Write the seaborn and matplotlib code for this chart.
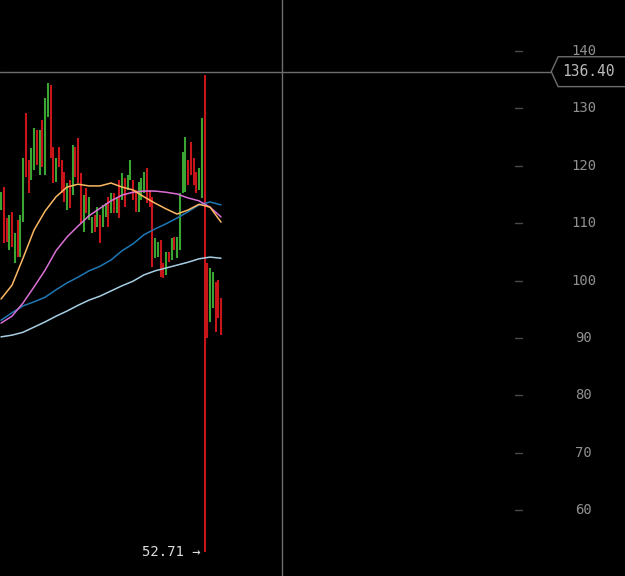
import pandas as pd
import matplotlib.pyplot as plt
from matplotlib.patches import Polygon
import seaborn as sns

# ---------------- data ----------------
# daily bars: high / low / direction (G = up, R = down)
bar_high = [115.4, 116.3, 110.9, 111.4, 112.0, 108.3, 110.6, 111.4, 121.4, 129.2,
            121.0, 123.1, 126.6, 126.2, 126.2, 128.0, 131.8, 134.4, 134.1, 123.3,
            121.4, 123.3, 121.0, 118.9, 117.0, 117.5, 123.6, 123.3, 124.8, 118.7,
            114.9, 116.1, 114.6, 111.1, 111.4, 112.8, 111.4, 113.2, 113.5, 114.6,
            115.3, 115.3, 114.6, 117.5, 118.7, 117.9, 118.4, 121.0, 117.5, 115.8,
            117.2, 117.9, 118.9, 119.6, 115.8, 114.6, 107.4, 106.7, 107.1, 103.1,
            105.0, 105.0, 107.4, 107.6, 107.6, 115.3, 122.4, 125.0, 121.0, 124.1,
            121.4, 118.9, 119.6, 128.3, 135.8, 103.1, 102.2, 101.5, 99.8, 100.1,
            97.0]
bar_low = [112.3, 106.5, 106.7, 105.3, 105.9, 103.1, 104.1, 104.1, 110.2, 118.0,
           115.3, 117.5, 119.3, 120.1, 118.4, 119.8, 118.4, 128.5, 121.4, 117.0,
           117.2, 119.8, 115.3, 113.7, 112.3, 112.6, 114.9, 118.0, 117.0, 110.0,
           108.5, 111.8, 110.6, 108.3, 108.5, 109.3, 106.5, 109.3, 111.1, 109.3,
           111.8, 111.8, 111.8, 110.9, 114.0, 112.8, 115.8, 117.5, 114.0, 112.0,
           112.0, 114.0, 115.3, 113.5, 112.8, 102.4, 103.9, 104.1, 100.6, 100.5,
           101.0, 103.2, 103.6, 105.3, 103.9, 105.3, 115.3, 115.4, 116.7, 118.4,
           116.7, 115.3, 115.8, 114.4, 52.71, 90.0, 92.8, 95.2, 91.0, 93.5,
           90.5]
bar_dir = list("GRRGRGRGGRRGGRGRGGRRGRRRGRGRRRGRGGRGRGGRGRGRGRGGRRGGGRRRGGRRGRGRGGGGRRRRGGRRGGRRR")

# moving averages, sampled every 4th bar
ma_index = list(range(0, 81, 4))
ma_orange = [96.8, 99.2, 103.9, 108.8, 112.1, 114.6, 116.3, 116.8, 116.5, 116.5, 117.0,
             116.3, 115.8, 114.6, 113.5, 112.5, 111.6, 112.3, 113.3, 112.8, 110.2]
ma_pink = [92.6, 93.8, 96.1, 98.9, 101.8, 105.2, 107.6, 109.5, 111.3, 112.6, 113.9,
           114.9, 115.4, 115.6, 115.6, 115.4, 115.1, 114.4, 113.9, 112.8, 111.1]
ma_blue = [93.1, 94.4, 95.6, 96.3, 97.1, 98.4, 99.6, 100.6, 101.7, 102.5, 103.6,
           105.2, 106.4, 108.0, 109.0, 109.9, 110.9, 112.0, 113.2, 113.7, 113.2]
ma_lightblue = [90.2, 90.5, 91.0, 91.9, 92.8, 93.8, 94.7, 95.7, 96.6, 97.3, 98.2,
                99.1, 99.9, 101.0, 101.7, 102.2, 102.7, 103.2, 103.8, 104.1, 103.9]

y_ticks = [60, 70, 80, 90, 100, 110, 120, 130, 140]
cross_price = 136.40
cross_index = 102.2
low_label = "52.71"


def main():
    sns.set_theme(style="dark")
    plt.rcParams["font.family"] = ["DejaVu Sans Mono", "DejaVu Sans"]

    fig = plt.figure(figsize=(6.25, 5.76), dpi=100, facecolor="black")
    ax = fig.add_axes([0, 0, 1, 1])
    ax.set_facecolor("black")

    df = pd.DataFrame({"high": bar_high, "low": bar_low, "dir": bar_dir})
    df["i"] = range(len(df))
    colors = {"G": "#3aa532", "R": "#c8151a"}
    for d, grp in df.groupby("dir"):
        ax.vlines(grp["i"], grp["low"], grp["high"], color=colors[d], lw=1.5, zorder=3)

    ma = pd.DataFrame({"i": ma_index, "orange": ma_orange, "pink": ma_pink,
                       "blue": ma_blue, "lightblue": ma_lightblue})
    line_colors = {"lightblue": "#a6cee3", "blue": "#1f78b4",
                   "pink": "#da70d6", "orange": "#fdb863"}
    for name, c in line_colors.items():
        sns.lineplot(data=ma, x="i", y=name, ax=ax, color=c, lw=1.1, zorder=4)

    # axes range so the bars sit where the screenshot has them
    ax.set_xlim(-0.364, 226.9)
    ax.set_ylim(48.54, 148.89)
    ax.set_xticks([])
    ax.set_yticks([])
    ax.set_xlabel("")
    ax.set_ylabel("")
    for s in ax.spines.values():
        s.set_visible(False)

    # price scale on the right
    tr = ax.get_yaxis_transform()
    for t in y_ticks:
        ax.plot([0.824, 0.835], [t, t], transform=tr, color="#4a4a4a", lw=1)
        ax.text(0.934, t, str(t), transform=tr, ha="center", va="center",
                color="#909090", fontsize=10)

    # crosshair
    ax.axvline(cross_index, color="#6e6e6e", lw=1, zorder=5)
    ax.plot([0, 0.882], [cross_price, cross_price], transform=tr,
            color="#6e6e6e", lw=1, zorder=5)
    tag = Polygon([(0.882, cross_price), (0.893, cross_price + 2.6),
                   (1.01, cross_price + 2.6), (1.01, cross_price - 2.6),
                   (0.893, cross_price - 2.6)], closed=True, transform=tr,
                  facecolor="black", edgecolor="#6e6e6e", lw=1, zorder=6)
    ax.add_patch(tag)
    ax.text(0.942, cross_price, f"{cross_price:.2f}", transform=tr, ha="center",
            va="center", color="#bbbbbb", fontsize=10.5, zorder=7)

    # low marker
    low_i = bar_low.index(min(bar_low))
    ax.annotate(low_label + " →", xy=(low_i, min(bar_low)), xytext=(-3, 0),
                textcoords="offset points", ha="right", va="center",
                color="#dddddd", fontsize=10)

    fig.savefig("out.png", dpi=100, facecolor="black")


if __name__ == "__main__":
    main()
